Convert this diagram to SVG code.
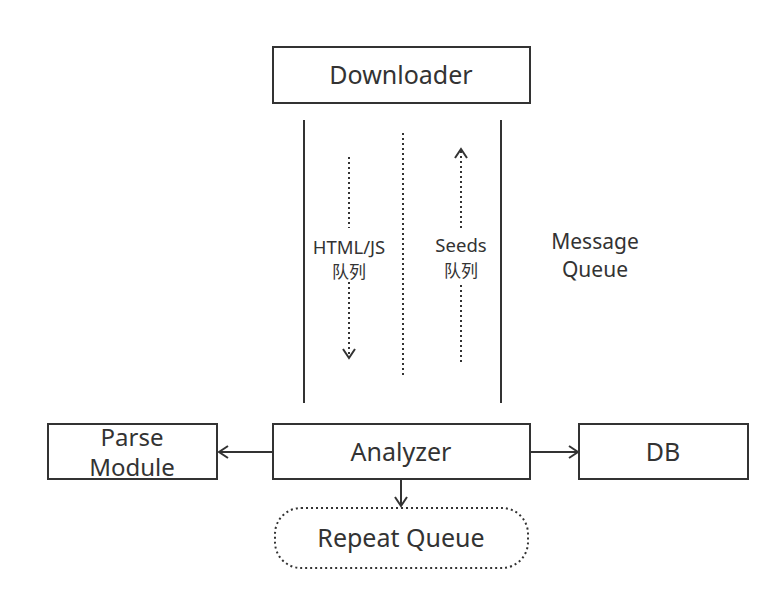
<svg xmlns="http://www.w3.org/2000/svg" width="781" height="600" viewBox="0 0 781 600">
<style>
.box{fill:#fff;stroke:#333;stroke-width:2}
.t{font-family:"Noto Sans","Open Sans","Noto Sans CJK SC",sans-serif;fill:#333;text-anchor:middle;dominant-baseline:central}
.big{font-size:25px}
.pm{font-size:24px}
.sm{font-size:18.5px}
.cjk{font-size:17px;font-family:"Noto Sans CJK SC",sans-serif}
.md{font-size:21px}
.ln{stroke:#333;stroke-width:2;fill:none}
.dot{stroke:#333;stroke-width:2;fill:none;stroke-dasharray:2 3}
</style>
<defs>
<marker id="ah" markerWidth="12" markerHeight="14" refX="10" refY="7" orient="auto" markerUnits="userSpaceOnUse">
<path d="M1,1 L10,7 L1,13" fill="none" stroke="#333" stroke-width="2"/>
</marker>
</defs>
<rect width="781" height="600" fill="#fff"/>
<g id="connectors">
<line class="ln" x1="304" y1="120" x2="304" y2="403"/>
<line class="ln" x1="501" y1="120" x2="501" y2="403"/>
<line class="dot" x1="403" y1="133" x2="403" y2="378"/>
<line class="dot" x1="349" y1="157" x2="349" y2="228"/>
<line class="dot" x1="349" y1="282" x2="349" y2="358" marker-end="url(#ah)"/>
<line class="dot" x1="461" y1="362" x2="461" y2="282"/>
<line class="dot" x1="461" y1="228" x2="461" y2="149" marker-end="url(#ah)"/>
<line class="ln" x1="273" y1="452" x2="219" y2="452" marker-end="url(#ah)"/>
<line class="ln" x1="530" y1="452" x2="578" y2="452" marker-end="url(#ah)"/>
<line class="ln" x1="401" y1="479" x2="401" y2="506" marker-end="url(#ah)"/>
</g>
<g id="downloader">
<rect class="box" x="273" y="47" width="257" height="56"/>
<text class="t big" x="401" y="74">Downloader</text>
</g>
<g id="html-queue">
<text class="t sm" x="349" y="246">HTML/JS</text>
<text class="t cjk" x="349" y="270">队列</text>
</g>
<g id="seeds-queue">
<text class="t sm" x="461" y="244">Seeds</text>
<text class="t cjk" x="461" y="269">队列</text>
</g>
<g id="message-queue">
<text class="t md" x="595" y="241">Message</text>
<text class="t md" x="595" y="269">Queue</text>
</g>
<g id="parse-module">
<rect class="box" x="48" y="424" width="169" height="55"/>
<text class="t pm" x="132" y="436">Parse</text>
<text class="t pm" x="132" y="466">Module</text>
</g>
<g id="analyzer">
<rect class="box" x="273" y="424" width="257" height="55"/>
<text class="t big" x="401" y="451">Analyzer</text>
</g>
<g id="db">
<rect class="box" x="579" y="424" width="169" height="55"/>
<text class="t big" x="663" y="451">DB</text>
</g>
<g id="repeat-queue">
<rect class="dot" x="275" y="508" width="253" height="60" rx="26" ry="26"/>
<text class="t big" x="401" y="537">Repeat Queue</text>
</g>
</svg>
